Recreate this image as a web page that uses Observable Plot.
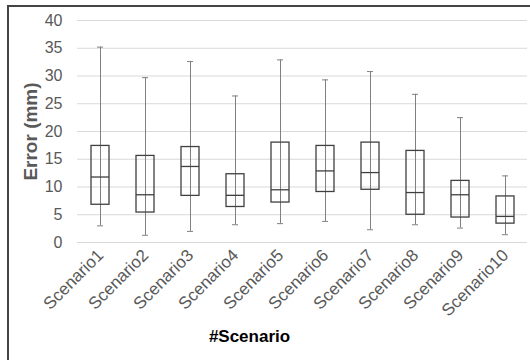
<!DOCTYPE html>
<html>
<head>
<meta charset="utf-8">
<script src="https://cdn.jsdelivr.net/npm/d3@7"></script>
<script src="https://cdn.jsdelivr.net/npm/@observablehq/plot@0.6"></script>
<style>
  body { margin: 0; background: #fff; }
  #wrap { position: relative; width: 530px; height: 360px; overflow: hidden; }
  #frame { position: absolute; left: 7px; top: 5px; width: 600px; height: 500px; border: 2px solid #444; pointer-events: none; }
</style>
</head>
<body>
<div id="wrap"><div id="chart"></div><div id="frame"></div></div>
<script>
const scenarios = ["Scenario1","Scenario2","Scenario3","Scenario4","Scenario5","Scenario6","Scenario7","Scenario8","Scenario9","Scenario10"];
const mins    = [3.0, 1.3, 2.0, 3.2, 3.4, 3.8, 2.3, 3.2, 2.6, 1.4];
const q1s     = [6.8, 5.4, 8.4, 6.4, 7.2, 9.1, 9.5, 5.0, 4.5, 3.4];
const medians = [11.8, 8.6, 13.7, 8.5, 9.5, 12.9, 12.6, 9.0, 8.6, 4.7];
const q3s     = [17.4, 15.6, 17.2, 12.3, 18.0, 17.4, 18.0, 16.5, 11.1, 8.3];
const maxs    = [35.2, 29.7, 32.6, 26.4, 32.9, 29.3, 30.8, 26.7, 22.5, 12.0];
const yTicks  = [0, 5, 10, 15, 20, 25, 30, 35, 40];

const data = scenarios.map((s, i) => ({s, min: mins[i], q1: q1s[i], med: medians[i], q3: q3s[i], max: maxs[i]}));

const plot = Plot.plot({
  width: 530,
  height: 360,
  marginLeft: 77,
  marginRight: 3,
  marginTop: 20,
  marginBottom: 118,
  style: {fontFamily: "'Liberation Sans', Arial, sans-serif", background: "transparent"},
  x: {domain: scenarios, paddingInner: 0.6, paddingOuter: 0.3, label: null},
  y: {domain: [0, 40], label: null},
  marks: [
    Plot.gridY(yTicks, {stroke: "#d9d9d9", strokeOpacity: 1, strokeWidth: 1}),
    Plot.axisY(yTicks, {tickSize: 0, tickPadding: 15, fontSize: 16, fill: "#595959", label: null}),
    Plot.axisX({tickSize: 0, tickPadding: 10, tickRotate: -45, fontSize: 17, fill: "#595959", label: null}),
    Plot.ruleX(data, {x: "s", y1: "min", y2: "max", stroke: "#808080", strokeWidth: 1}),
    Plot.tickY(data, {x: "s", y: "min", stroke: "#808080", strokeWidth: 1, insetLeft: 6, insetRight: 6}),
    Plot.tickY(data, {x: "s", y: "max", stroke: "#808080", strokeWidth: 1, insetLeft: 6, insetRight: 6}),
    Plot.barY(data, {x: "s", y1: "q1", y2: "q3", fill: "none", stroke: "#404040", strokeWidth: 1.3}),
    Plot.tickY(data, {x: "s", y: "med", stroke: "#404040", strokeWidth: 1.3}),
    Plot.text(["Error (mm)"], {frameAnchor: "left", dx: -47, rotate: -90, textAnchor: "middle", lineAnchor: "middle", fontSize: 19, fontWeight: "bold", fill: "#595959"}),
    Plot.text(["#Scenario"], {frameAnchor: "bottom", dy: 99, dx: -53, textAnchor: "middle", lineAnchor: "bottom", fontSize: 17, fontWeight: "bold", fill: "#000"})
  ]
});
document.getElementById("chart").appendChild(plot);
</script>
</body>
</html>
